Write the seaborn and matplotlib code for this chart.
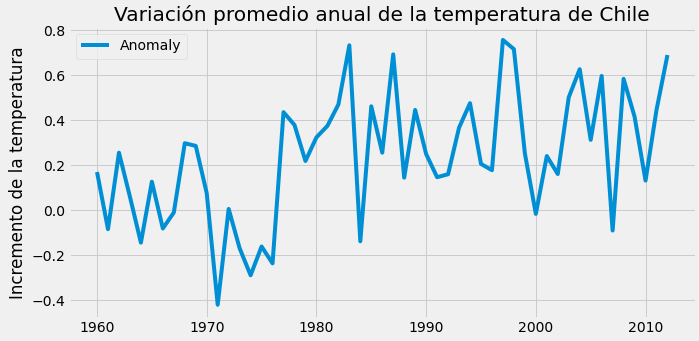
import matplotlib
matplotlib.use("Agg")
import matplotlib.pyplot as plt
import seaborn as sns
import pandas as pd

years = list(range(1960, 2013))
anomaly = [0.17, -0.084, 0.256, 0.06, -0.144, 0.127, -0.081, -0.01, 0.298, 0.286,
           0.076, -0.42, 0.006, -0.169, -0.289, -0.161, -0.236, 0.436, 0.379, 0.219,
           0.324, 0.375, 0.47, 0.733, -0.138, 0.462, 0.256, 0.693, 0.145, 0.446,
           0.25, 0.147, 0.16, 0.367, 0.476, 0.206, 0.178, 0.757, 0.716, 0.253,
           -0.016, 0.241, 0.161, 0.502, 0.627, 0.313, 0.597, -0.09, 0.584, 0.416,
           0.132, 0.446, 0.69]

title = "Variación promedio anual de la temperatura de Chile"
ylabel = "Incremento de la temperatura"
series_name = "Anomaly"

plt.style.use("fivethirtyeight")
plt.rcParams["font.family"] = ["DejaVu Sans"]

df = pd.DataFrame({"Year": years, series_name: anomaly})

W, H = 699, 341
fig = plt.figure(figsize=(W / 72, H / 72), dpi=72)
ax = fig.add_axes([68.5 / W, 1 - 318 / H, (696 - 68.5) / W, (318 - 26.7) / H])

sns.lineplot(data=df, x="Year", y=series_name, ax=ax, label=series_name,
             color="#008fd5", linewidth=4)
ax.set_title(title)
ax.set_xlabel("")
ax.set_ylabel(ylabel)
ax.legend(loc="upper left")

fig.savefig("out.png", dpi=72)
